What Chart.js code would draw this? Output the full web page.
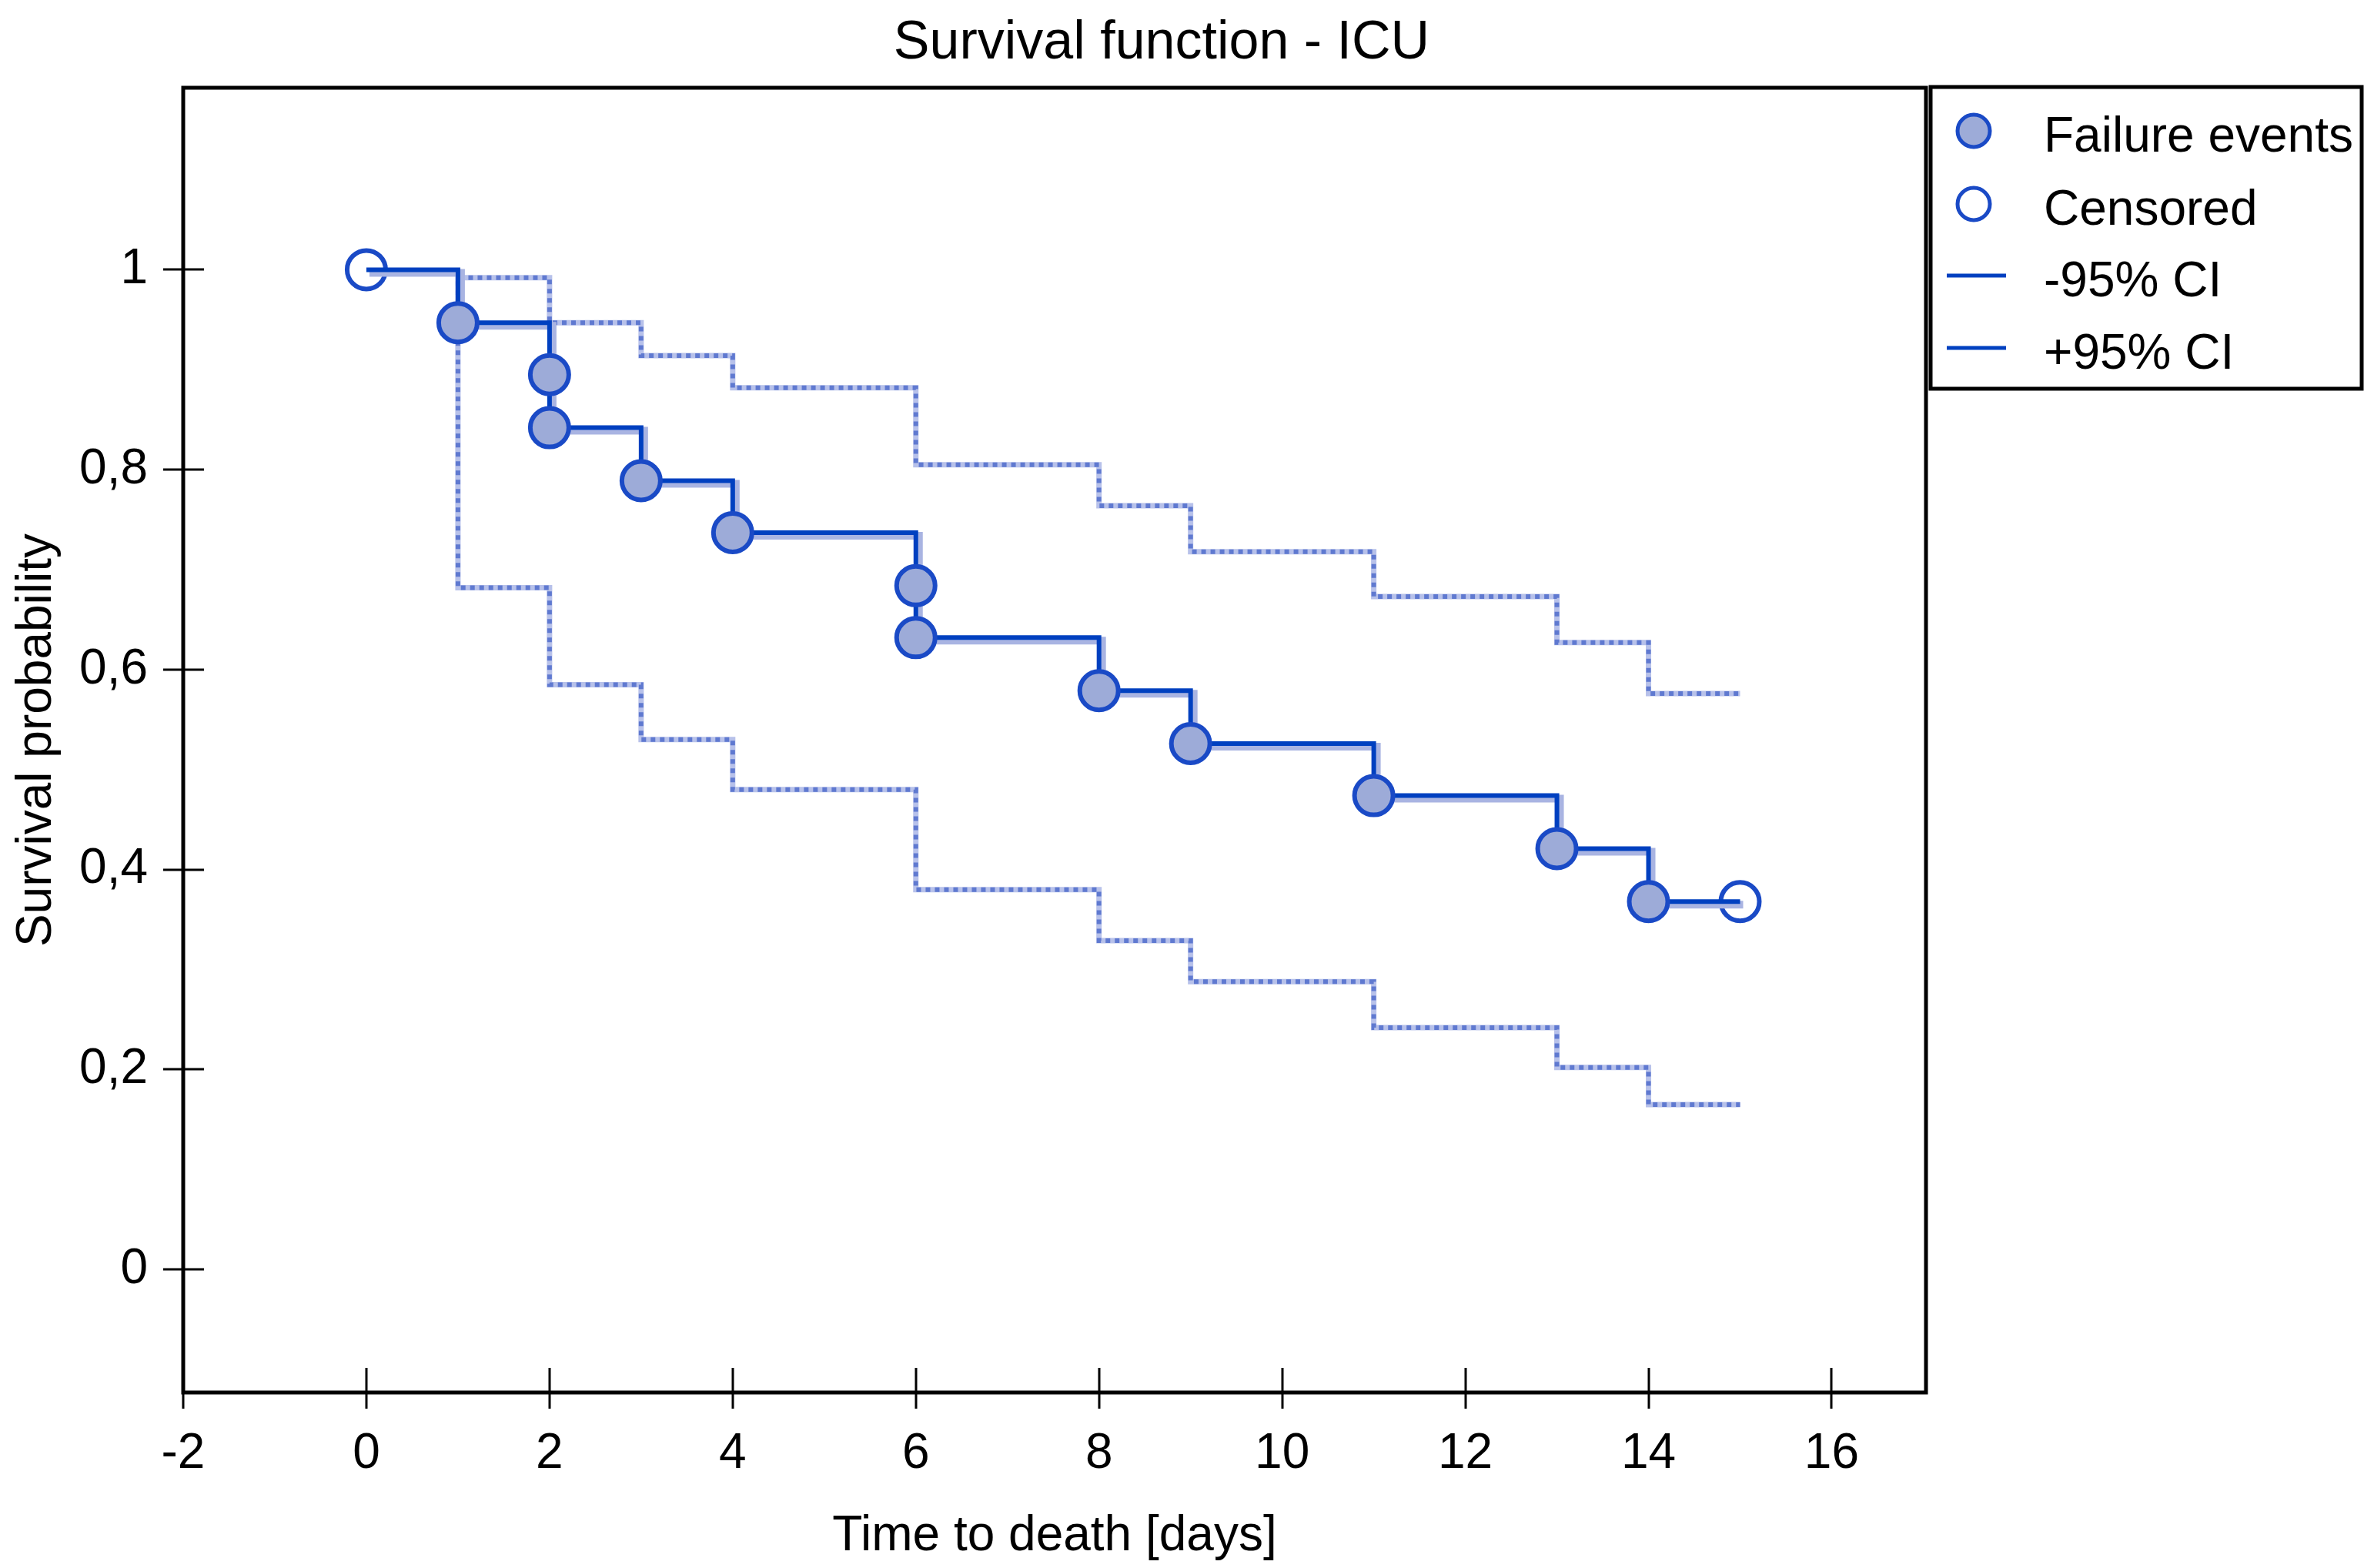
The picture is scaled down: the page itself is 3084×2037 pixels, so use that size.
<!DOCTYPE html>
<html>
<head>
<meta charset="utf-8">
<script src="https://cdn.jsdelivr.net/npm/chart.js@4.4.1/dist/chart.umd.min.js"></script>
<style>
  html, body { margin: 0; padding: 0; background: #fff; overflow: hidden; }
  canvas { display: block; }
</style>
</head>
<body>
<canvas id="survChart" width="3084" height="2037" style="width:3084px;height:2037px"></canvas>
<script>
// Kaplan-Meier estimate (value after each step)
const kmTimes = [0, 1, 2, 3, 4, 6, 8, 9, 11, 13, 14, 15];
const kmSurv = [1, 0.947, 0.842, 0.789, 0.737, 0.632, 0.579, 0.526, 0.474, 0.421, 0.368, 0.368];

// failure events and censored cases
const eventTimes = [1, 2, 2, 3, 4, 6, 6, 8, 9, 11, 13, 14];
const eventSurv = [0.947, 0.895, 0.842, 0.789, 0.737, 0.684, 0.632, 0.579, 0.526, 0.474, 0.421, 0.368];
const censTimes = [0, 15];
const censSurv = [1, 0.368];

// 95% confidence band
const ciTimes = [1, 1, 2, 3, 4, 6, 8, 9, 11, 13, 14, 15];
const ciLower = [0.947, 0.682, 0.585, 0.530, 0.480, 0.380, 0.329, 0.288, 0.242, 0.202, 0.165, 0.165];
const ciUpper = [0.947, 0.992, 0.947, 0.914, 0.882, 0.805, 0.764, 0.718, 0.673, 0.627, 0.576, 0.576];

// axes
const xTicks = [-2, 0, 2, 4, 6, 8, 10, 12, 14, 16];
const yTicks = [0, 0.2, 0.4, 0.6, 0.8, 1];
const yTickLabels = ["0", "0,2", "0,4", "0,6", "0,8", "1"];

const chartTitle = "Survival function - ICU";
const legendLabels = ["Failure events", "Censored", "-95% CI", "+95% CI"];

const BLUE = "#0040c0";
const MARK_BORDER = "#1a4ac6";
const MARK_FILL = "#9dabd8";
const HALO = "#a9b4e2";
const CI_LIGHT = "#b7c1ea";
const CI_DOTS = "#5f79d0";

const toPoints = (xs, ys) => xs.map((t, i) => ({ x: t, y: ys[i] }));

const FONT = "'Liberation Sans', Arial, sans-serif";
Chart.defaults.font.family = FONT;
Chart.defaults.color = "#000";

// shadow line is drawn a few pixels down/right, like the original
const shiftPlugin = {
  id: "shift",
  beforeDatasetDraw(chart, args) {
    if (chart.data.datasets[args.index].shadow) {
      chart.ctx.save();
      chart.ctx.translate(4, 4);
    }
  },
  afterDatasetDraw(chart, args) {
    if (chart.data.datasets[args.index].shadow) chart.ctx.restore();
  },
};

const framePlugin = {
  id: "frame",
  afterDraw(chart) {
    const { ctx, chartArea: a } = chart;
    const x = chart.scales.x;
    const y = chart.scales.y;
    ctx.save();

    // title
    ctx.fillStyle = "#000";
    ctx.font = "70px " + FONT;
    ctx.textAlign = "center";
    ctx.textBaseline = "middle";
    ctx.fillText(chartTitle, 1509, 57);

    // ticks crossing the axes
    ctx.strokeStyle = "#000";
    ctx.lineWidth = 3;
    ctx.beginPath();
    xTicks.forEach((v) => {
      const px = Math.round(x.getPixelForValue(v));
      ctx.moveTo(px, a.bottom - 32);
      ctx.lineTo(px, a.bottom + 21);
    });
    yTicks.forEach((v) => {
      const py = Math.round(y.getPixelForValue(v));
      ctx.moveTo(a.left - 26, py);
      ctx.lineTo(a.left + 27, py);
    });
    ctx.stroke();

    // plot frame
    ctx.lineWidth = 5;
    ctx.strokeRect(a.left, a.top, a.right - a.left, a.bottom - a.top);

    // legend box
    const lx = 2508, ly = 113, lw = 560, lh = 392;
    ctx.fillStyle = "#fff";
    ctx.fillRect(lx, ly, lw, lh);
    ctx.strokeRect(lx, ly, lw, lh);

    const rows = [170, 265, 358, 452];
    ctx.font = "64px " + FONT;
    ctx.textBaseline = "middle";
    ctx.textAlign = "left";
    rows.forEach((ry, i) => {
      if (i < 2) {
        ctx.beginPath();
        ctx.arc(2564, ry, 21, 0, Math.PI * 2);
        ctx.fillStyle = i === 0 ? MARK_FILL : "#fff";
        ctx.fill();
        ctx.lineWidth = 5;
        ctx.strokeStyle = MARK_BORDER;
        ctx.stroke();
      } else {
        ctx.beginPath();
        ctx.moveTo(2529, ry);
        ctx.lineTo(2606, ry);
        ctx.lineWidth = 5;
        ctx.strokeStyle = BLUE;
        ctx.stroke();
      }
      ctx.fillStyle = "#000";
      ctx.fillText(legendLabels[i], 2655, ry + 9);
    });

    ctx.restore();
  },
};

const lineBase = {
  showLine: true,
  stepped: true,
  pointRadius: 0,
  fill: false,
};

new Chart(document.getElementById("survChart"), {
  type: "scatter",
  data: {
    datasets: [
      {
        label: legendLabels[0],
        data: toPoints(eventTimes, eventSurv),
        pointRadius: 25,
        pointBorderWidth: 6,
        pointBackgroundColor: MARK_FILL,
        pointBorderColor: MARK_BORDER,
        clip: false,
      },
      {
        ...lineBase,
        label: "KM",
        data: toPoints(kmTimes, kmSurv),
        borderColor: BLUE,
        borderWidth: 6,
      },
      {
        ...lineBase,
        label: "KM shadow",
        shadow: true,
        data: toPoints(kmTimes, kmSurv),
        borderColor: HALO,
        borderWidth: 10,
      },
      {
        label: legendLabels[1],
        data: toPoints(censTimes, censSurv),
        pointRadius: 25,
        pointBorderWidth: 6,
        pointBackgroundColor: "#fff",
        pointBorderColor: MARK_BORDER,
        clip: false,
      },
      {
        ...lineBase,
        label: legendLabels[2] + " dots",
        data: toPoints(ciTimes, ciLower),
        borderColor: CI_DOTS,
        borderWidth: 6,
        borderDash: [6, 6],
      },
      {
        ...lineBase,
        label: legendLabels[3] + " dots",
        data: toPoints(ciTimes, ciUpper),
        borderColor: CI_DOTS,
        borderWidth: 6,
        borderDash: [6, 6],
      },
      {
        ...lineBase,
        label: legendLabels[2],
        data: toPoints(ciTimes, ciLower),
        borderColor: CI_LIGHT,
        borderWidth: 7,
      },
      {
        ...lineBase,
        label: legendLabels[3],
        data: toPoints(ciTimes, ciUpper),
        borderColor: CI_LIGHT,
        borderWidth: 7,
      },
    ],
  },
  options: {
    responsive: false,
    devicePixelRatio: 1,
    animation: false,
    events: [],
    layout: {
      padding: { left: 0, right: 582, top: 114, bottom: 0 },
    },
    plugins: {
      legend: { display: false },
      tooltip: { enabled: false },
      title: { display: false },
    },
    scales: {
      x: {
        type: "linear",
        min: -2,
        max: 17.03,
        grid: { display: false },
        border: { display: false },
        afterBuildTicks: (s) => {
          s.ticks = xTicks.map((v) => ({ value: v }));
        },
        afterFit: (s) => {
          s.height = 228;
        },
        ticks: {
          color: "#000",
          font: { size: 64 },
          padding: 34,
          maxRotation: 0,
          autoSkip: false,
        },
        title: {
          display: true,
          text: "Time to death [days]",
          color: "#000",
          font: { size: 64 },
          padding: { top: 0, bottom: 2 },
        },
      },
      y: {
        type: "linear",
        min: -0.123,
        max: 1.182,
        grid: { display: false },
        border: { display: false },
        afterBuildTicks: (s) => {
          s.ticks = yTicks.map((v) => ({ value: v }));
        },
        afterFit: (s) => {
          s.width = 238;
        },
        ticks: {
          color: "#000",
          font: { size: 64 },
          padding: 38,
          autoSkip: false,
          callback: (v, i) => yTickLabels[i],
        },
        title: {
          display: true,
          text: "Survival probability",
          color: "#000",
          font: { size: 64 },
          padding: { top: 10, bottom: 0 },
        },
      },
    },
  },
  plugins: [shiftPlugin, framePlugin],
});
</script>
</body>
</html>
